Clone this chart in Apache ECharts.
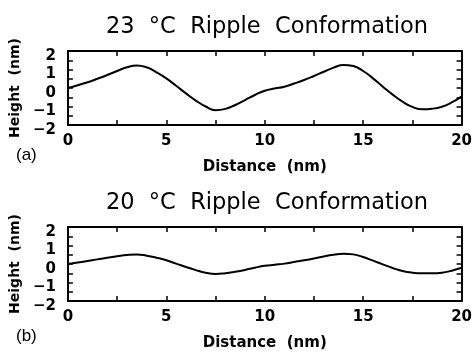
<!DOCTYPE html>
<html>
<head>
<meta charset="utf-8">
<script src="https://cdn.jsdelivr.net/npm/echarts@6/dist/echarts.min.js"></script>
<style>html,body{margin:0;padding:0;background:#fff}#c{width:475px;height:352px}</style>
</head>
<body>
<div id="c"></div>
<script>
const titles = ['23  °C  Ripple  Conformation', '20  °C  Ripple  Conformation'];
const panelLabels = ['(a)', '(b)'];
const xTitle = 'Distance  (nm)';
const yTitle = 'Height  (nm)';
const distance = [0, 0.5, 1, 1.5, 2, 2.5, 3, 3.5, 4, 4.5, 5, 5.5, 6, 6.5, 7, 7.5, 8, 8.5, 9, 9.5, 10, 10.5, 11, 11.5, 12, 12.5, 13, 13.5, 14, 14.5, 15, 15.5, 16, 16.5, 17, 17.5, 18, 18.5, 19, 19.5, 20];
const height23 = [0, 0.15, 0.31, 0.5, 0.70, 0.92, 1.12, 1.22, 1.12, 0.85, 0.52, 0.12, -0.29, -0.68, -1.0, -1.2, -1.13, -0.92, -0.65, -0.38, -0.15, -0.03, 0.07, 0.24, 0.43, 0.65, 0.88, 1.1, 1.25, 1.19, 0.92, 0.52, 0.07, -0.36, -0.74, -1.02, -1.15, -1.12, -1.01, -0.78, -0.47];
const height20 = [0, 0.08, 0.16, 0.25, 0.34, 0.42, 0.49, 0.52, 0.45, 0.34, 0.2, 0.02, -0.16, -0.33, -0.47, -0.54, -0.5, -0.42, -0.32, -0.2, -0.1, -0.04, 0.02, 0.11, 0.2, 0.3, 0.41, 0.5, 0.56, 0.52, 0.38, 0.18, -0.02, -0.22, -0.38, -0.47, -0.5, -0.5, -0.47, -0.36, -0.2];

const chart = echarts.init(document.getElementById('c'));
const font = 'DejaVu Sans, sans-serif';
const font2 = 'Liberation Sans, Arial, sans-serif';
const tops = [51, 227];
const grids = tops.map(t => ({left: 65, top: t, width: 398, height: 74}));
const xAxes = [], yAxes = [];
const axLine = {show: true, onZero: false, lineStyle: {color: '#000', width: 2}};
const tick = {inside: true, length: 5, lineStyle: {color: '#000', width: 1.5}};
const minor = {show: true, splitNumber: 2, length: 5, lineStyle: {color: '#000', width: 1.5}};
[0, 1].forEach(i => {
  xAxes.push({
    gridIndex: i, type: 'value', min: 0, max: 20, interval: 5, position: 'bottom',
    axisLine: axLine, axisTick: tick, minorTick: minor, splitLine: {show: false},
    axisLabel: {color: '#000', fontFamily: font, fontWeight: 'bold', fontSize: 15, margin: 9},
    name: xTitle, nameLocation: 'middle', nameGap: 35,
    nameTextStyle: {color: '#000', fontFamily: font, fontWeight: 'bold', fontSize: 15}
  });
  xAxes.push({
    gridIndex: i, type: 'value', min: 0, max: 20, interval: 5, position: 'top',
    axisLine: axLine, axisTick: tick, minorTick: minor, splitLine: {show: false},
    axisLabel: {show: false}
  });
  yAxes.push({
    gridIndex: i, type: 'value', min: -2, max: 2, interval: 1, position: 'left',
    axisLine: axLine, axisTick: tick, minorTick: minor, splitLine: {show: false},
    axisLabel: {color: '#000', fontFamily: font, fontWeight: 'bold', fontSize: 15, margin: 12,
      verticalAlign: 'top', lineHeight: 10,
      formatter: v => (v < 0 ? '\u2212' + Math.abs(v) : String(v))},
    name: yTitle, nameLocation: 'middle', nameGap: 32, nameRotate: 90,
    nameTextStyle: {color: '#000', fontFamily: font, fontWeight: 'bold', fontSize: 14}
  });
  yAxes.push({
    gridIndex: i, type: 'value', min: -2, max: 2, interval: 1, position: 'right',
    axisLine: axLine, axisTick: tick, minorTick: minor, splitLine: {show: false},
    axisLabel: {show: false}
  });
});
const datasets = [height23, height20];
chart.setOption({
  backgroundColor: '#fff',
  animation: false,
  title: [
    {text: titles[0], left: 262, top: 11, textAlign: 'center', textStyle: {color: '#000', fontFamily: font, fontWeight: 'normal', fontSize: 22.5}},
    {text: titles[1], left: 262, top: 187, textAlign: 'center', textStyle: {color: '#000', fontFamily: font, fontWeight: 'normal', fontSize: 22.5}}
  ],
  graphic: [
    {type: 'text', left: 16, top: 147, style: {text: panelLabels[0], fill: '#000', font: '17px ' + font2}},
    {type: 'text', left: 16, top: 328, style: {text: panelLabels[1], fill: '#000', font: '17px ' + font2}}
  ],
  grid: grids,
  xAxis: xAxes,
  yAxis: yAxes,
  series: datasets.map((d, i) => ({
    type: 'line', xAxisIndex: i * 2, yAxisIndex: i * 2, smooth: 0.5, showSymbol: false,
    lineStyle: {color: '#000', width: 2},
    data: distance.map((x, k) => [x, d[k]])
  }))
});
</script>
</body>
</html>
